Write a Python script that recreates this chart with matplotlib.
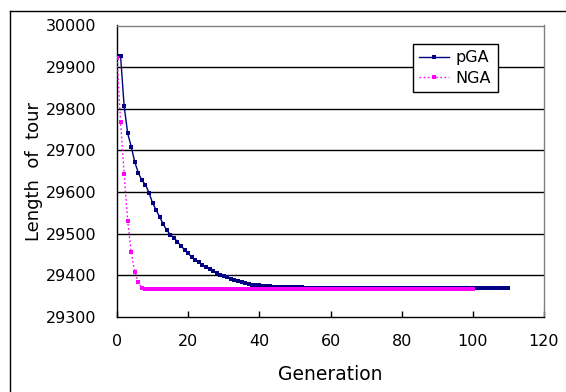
import matplotlib
matplotlib.use("Agg")
import matplotlib.pyplot as plt
from matplotlib.lines import Line2D

generations_pga = list(range(0, 111))
pga = [29927, 29927, 29807, 29741, 29709, 29672, 29646, 29628, 29618, 29598,
       29574, 29557, 29540, 29523, 29508, 29498, 29490, 29481, 29470, 29462,
       29453, 29444, 29436, 29431, 29425, 29419, 29415, 29410, 29405, 29401,
       29398, 29395, 29392, 29389, 29386, 29384, 29381, 29379, 29378, 29377,
       29376, 29375, 29374, 29374, 29373, 29372, 29372, 29371, 29371, 29371,
       29371, 29371, 29371, 29370, 29370, 29370, 29370, 29370, 29370, 29370,
       29370, 29370, 29370, 29370, 29370, 29370, 29370, 29370, 29370, 29370,
       29370, 29370, 29370, 29370, 29370, 29370, 29370, 29370, 29370, 29370,
       29370, 29370, 29370, 29370, 29370, 29370, 29370, 29370, 29370, 29370,
       29370, 29370, 29370, 29370, 29370, 29370, 29370, 29370, 29370, 29370,
       29370, 29370, 29370, 29370, 29370, 29370, 29370, 29370, 29370, 29370,
       29370]
generations_nga = list(range(0, 101))
nga = [29923, 29769, 29643, 29531, 29455, 29408, 29383, 29369, 29367, 29367,
       29367, 29367, 29367, 29367, 29367, 29367, 29367, 29367, 29367, 29367,
       29367, 29367, 29367, 29367, 29367, 29367, 29367, 29367, 29367, 29367,
       29367, 29367, 29367, 29367, 29367, 29367, 29367, 29367, 29367, 29367,
       29367, 29367, 29367, 29367, 29367, 29367, 29367, 29367, 29367, 29367,
       29367, 29367, 29367, 29367, 29367, 29367, 29367, 29367, 29367, 29367,
       29367, 29367, 29367, 29367, 29367, 29367, 29367, 29367, 29367, 29367,
       29367, 29367, 29367, 29367, 29367, 29367, 29367, 29367, 29367, 29367,
       29367, 29367, 29367, 29367, 29367, 29367, 29367, 29367, 29367, 29367,
       29367, 29367, 29367, 29367, 29367, 29367, 29367, 29367, 29367, 29367,
       29367]
x_ticks = [0, 20, 40, 60, 80, 100, 120]
y_ticks = [29300, 29400, 29500, 29600, 29700, 29800, 29900, 30000]

W, H = 566, 392
fig = plt.figure(figsize=(W / 100, H / 100), dpi=100)
fig.patch.set_facecolor("white")

L, R, T, B = 117, 544, 25.5, 317
ax = fig.add_axes([L / W, (H - B) / H, (R - L) / W, (B - T) / H])

fs = 11.5
ax.plot(generations_pga, pga, color="#000080", lw=1.0, marker="s",
        markersize=2.5, markeredgewidth=0, label="pGA", zorder=3)
ax.plot(generations_nga, nga, color="#FF00FF", lw=1.0, ls=(0, (1.2, 1.8)),
        marker="s", markersize=2.5, markeredgewidth=0, label="NGA", zorder=4)

ax.set_xlim(0, 120)
ax.set_ylim(29300, 30000)
ax.set_xticks(x_ticks)
ax.set_yticks(y_ticks)
ax.set_xticklabels([str(v) for v in x_ticks], fontsize=fs)
ax.set_yticklabels([str(v) for v in y_ticks], fontsize=fs)
ax.tick_params(axis="x", direction="in", length=4, width=1, pad=12)
ax.tick_params(axis="y", length=0, pad=15)
for y in y_ticks[1:-1]:
    ax.axhline(y, color="black", lw=1.0, zorder=1)

ax.spines["left"].set_color("black")
ax.spines["bottom"].set_color("black")
ax.spines["top"].set_color("#808080")
ax.spines["right"].set_color("#808080")
for s in ax.spines.values():
    s.set_linewidth(1.0)

ax.set_xlabel("Generation", fontsize=13.5, labelpad=12)
ax.set_ylabel("Length  of  tour", fontsize=13, labelpad=2)

leg = ax.legend(loc="upper left", bbox_to_anchor=(0.6925, 0.9365),
                fontsize=fs, frameon=True, fancybox=False, framealpha=1,
                edgecolor="black", handlelength=1.9, handletextpad=0.4,
                labelspacing=0.35, borderpad=0.4, borderaxespad=0)
leg.get_frame().set_linewidth(1.0)
leg.set_zorder(10)

fig.add_artist(Line2D([10 / W, 10 / W], [0, (H - 11) / H], color="black",
                      lw=1.0, transform=fig.transFigure))
fig.add_artist(Line2D([10 / W, 1], [(H - 11) / H, (H - 11) / H],
                      color="black", lw=1.0, transform=fig.transFigure))

fig.savefig("out.png", dpi=100)
